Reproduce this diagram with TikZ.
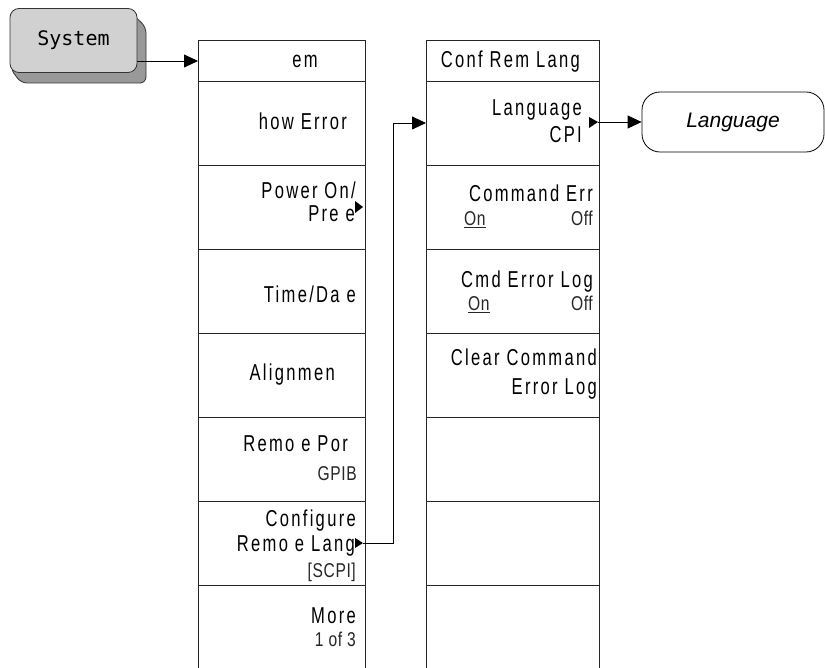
\documentclass[tikz,border=0pt]{standalone}
\usepackage{fontspec}
\setmainfont{Liberation Sans}
\newfontfamily\keyfont[FakeStretch=0.72,LetterSpace=10]{Liberation Sans}
\newfontfamily\subfont[FakeStretch=0.78,LetterSpace=3]{Liberation Sans}
\newfontfamily\btnfont{DejaVu Sans Mono}
\usetikzlibrary{arrows.meta}

\begin{document}
\begin{tikzpicture}[x=1pt,y=-1pt,
    cell/.style={draw=black!85,line width=1pt,minimum height=84pt,inner sep=0pt,anchor=north west},
    key/.style={font=\keyfont\fontsize{23}{26}\selectfont,anchor=base east,inner sep=0pt},
    subkey/.style={font=\subfont\fontsize{20}{24}\selectfont,text=black!85,anchor=base east,inner sep=0pt},
    arr/.style={draw=black,line width=0.8pt,-{Triangle[length=14pt,width=13pt]}},
    submark/.style={fill=black}]
  \useasboundingbox (0,0) rectangle (825,668);
  % hardkey
  \filldraw[fill=black!40,draw=black!80,line width=0.8pt,rounded corners=6pt]
    (126,8) -- (146,27) -- (146,83) -- (21,83) -- (10,68) -- cycle;
  \node[draw=black!80,line width=0.8pt,fill=black!18,rounded corners=9pt,
    minimum width=127pt,minimum height=64pt,font=\btnfont\fontsize{20}{24}\selectfont] (sys) at (73.5,40.5) {System};
  % first menu
  \node[cell,minimum width=167pt,minimum height=41pt] (a0) at (198,40) {};
  \foreach \i in {1,...,7}
    \node[cell,minimum width=167pt] (a\i) at (198,{81+84*(\i-1)}) {};
  % second menu
  \node[cell,minimum width=173pt,minimum height=41pt] (b0) at (426,40) {};
  \foreach \i in {1,...,7}
    \node[cell,minimum width=173pt] (b\i) at (426,{81+84*(\i-1)}) {};
  % softkey labels
  \node[key] (t-a0) at (318,68) {em};
  \node[key] (t-a1) at (347,130) {how Error};
  \node[key] (t-a2) at (356,199) {Power On/};
  \node[key] (t-a2b) at (355,222) {Pre e};
  \node[key] (t-a3) at (356,303) {Time/Da e};
  \node[key] (t-a4) at (335,381) {Alignmen};
  \node[key] (t-a5) at (348,451) {Remo e Por};
  \node[subkey] (t-a5b) at (357,480) {GPIB};
  \node[key] (t-a6) at (356,526) {Configure};
  \node[key] (t-a6b) at (355,551) {Remo e Lang};
  \node[subkey] (t-a6c) at (356,577) {[SCPI]};
  \node[key] (t-a7) at (356,623) {More};
  \node[subkey] (t-a7b) at (356,646) {1 of 3};
  \node[key] (t-b0) at (580,68) {Conf Rem Lang};
  \node[key] (t-b1) at (582,116) {Language};
  \node[key] (t-b1b) at (582,143) {CPI};
  \node[key] (t-b2) at (593,202) {Command Err};
  \node[subkey,anchor=base west] (t-b2on) at (464,226) {\underline{On}};
  \node[subkey] (t-b2off) at (593,226) {Off};
  \node[key] (t-b3) at (593,288) {Cmd Error Log};
  \node[subkey,anchor=base west] (t-b3on) at (468,311) {\underline{On}};
  \node[subkey] (t-b3off) at (593,311) {Off};
  \node[key] (t-b4) at (597,366) {Clear Command};
  \node[key] (t-b4b) at (597,395) {Error Log};
  % submenu marks
  \fill[submark] (355,201) -- (363,207) -- (355,213) -- cycle;
  \fill[submark] (355,538) -- (363,543) -- (355,548) -- cycle;
  \fill[submark] (589,117) -- (598,122) -- (589,128) -- cycle;
  % result
  \node[draw=black,line width=0.8pt,rounded corners=18pt,minimum width=182pt,minimum height=60pt,
    font=\itshape\fontsize{21}{24}\selectfont] (lang) at (733,122) {Language};
  % connectors
  \coordinate (k1) at (363,543);
  \coordinate (k2) at (598,122);
  \coordinate (bend) at (393,0);
  \coordinate (in2) at (426,123);
  \draw[arr] (sys.east |- a0.west) -- (a0.west);
  \draw[arr] (k1) -- (k1 -| bend) |- (in2);
  \draw[arr] (k2) -- (lang.west);
\end{tikzpicture}
\end{document}
